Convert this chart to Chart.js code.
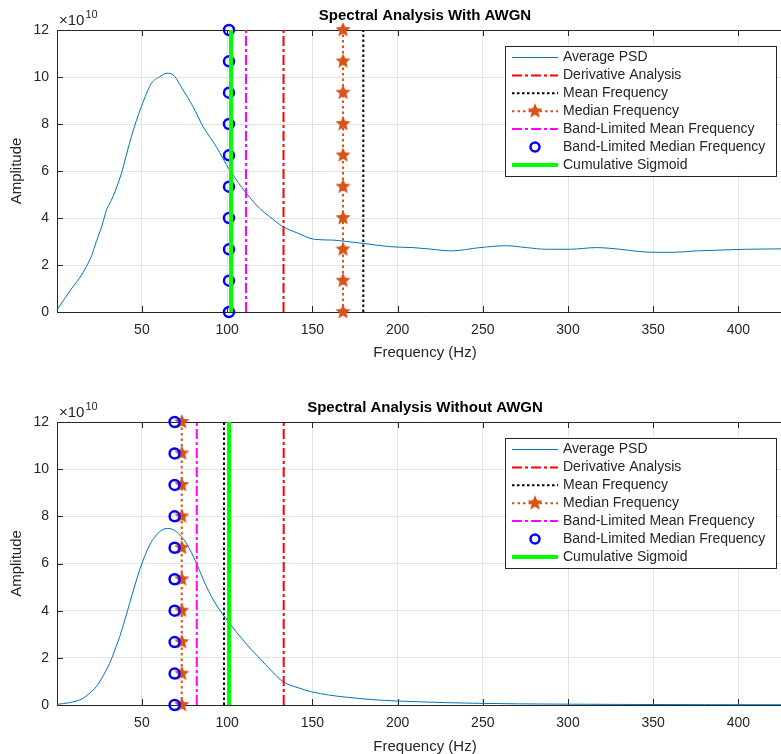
<!DOCTYPE html>
<html>
<head>
<meta charset="utf-8">
<script src="https://cdn.jsdelivr.net/npm/chart.js@4"></script>
<style>
html, body { margin: 0; padding: 0; background: #fff; overflow: hidden; }
.panel { position: relative; width: 793px; height: 377px; }
</style>
</head>
<body>
<div class="panel" id="p1"><canvas id="withNoise"></canvas></div>
<div class="panel" id="p2"><canvas id="withoutNoise"></canvas></div>
<script>
// tick labels (amplitude in units of 1e10)
var xTicks = [50, 100, 150, 200, 250, 300, 350, 400];
var yTicks = [0, 2, 4, 6, 8, 10, 12];
var markerY = [0, 1.333, 2.667, 4, 5.333, 6.667, 8, 9.333, 10.667, 12];

var seriesNames = ['Average PSD', 'Derivative Analysis', 'Mean Frequency', 'Median Frequency',
  'Band-Limited Mean Frequency', 'Band-Limited Median Frequency', 'Cumulative Sigmoid'];

// with AWGN
var freqWith = [0.2, 5, 9.6, 13.5, 17.4, 20.5, 23.3, 26.5, 29.2, 31, 33, 38, 43.8, 49.7, 55.6, 60.4,
  64.7, 68.3, 74.1, 80, 85.9, 93.7, 101.5, 111.3, 119.1, 125, 132.8, 140.7, 151.4, 162.2, 170,
  179.8, 195.4, 209.1, 218.9, 231.6, 248.2, 263.9, 275.6, 287.4, 301, 316.7, 330.4, 342.1, 350,
  361.7, 375.4, 391, 404.7, 432];
var psdWith = [0.1, 0.6, 1.08, 1.45, 1.93, 2.4, 3.0, 3.65, 4.34, 4.6, 4.9, 5.9, 7.46, 8.74, 9.73, 10.01,
  10.16, 10.09, 9.45, 8.74, 7.89, 7.03, 6.04, 5.05, 4.41, 4.05, 3.63, 3.38, 3.09, 3.06, 3.0,
  2.92, 2.78, 2.74, 2.68, 2.6, 2.74, 2.82, 2.74, 2.67, 2.67, 2.74, 2.67, 2.57, 2.54,
  2.54, 2.6, 2.64, 2.67, 2.69];
// derivative, mean, median, band-limited mean, band-limited median, sigmoid
var vlinesWith = [133.1, 179.9, 168.0, 111.1, 101.1, 102.3];

// without AWGN
var freqWithout = [0.2, 7.6, 15.4, 19, 23.3, 27, 31.1, 34, 37, 40, 42.8, 45.8, 48.7, 51.6, 54.6, 57.5,
  60.4, 63, 65.3, 67.8, 70.2, 73, 76.1, 79, 82, 85, 87.9, 90.8, 93.7, 97.6, 101.5, 105.4, 109.3,
  114.2, 119.1, 126, 132.8, 142.6, 149.5, 160, 170, 185, 199.4, 215, 228.7, 248, 270, 287, 330,
  380, 432];
var psdWithout = [0.03, 0.1, 0.28, 0.48, 0.78, 1.2, 1.77, 2.3, 2.9, 3.6, 4.31, 5.05, 5.73, 6.3, 6.79, 7.12,
  7.35, 7.46, 7.49, 7.45, 7.35, 7.15, 6.86, 6.47, 6.01, 5.5, 5.02, 4.6, 4.24, 3.83, 3.46, 3.1, 2.76,
  2.35, 1.98, 1.45, 0.99, 0.71, 0.56, 0.42, 0.33, 0.23, 0.17, 0.13, 0.1, 0.07, 0.05, 0.04, 0.025,
  0.015, 0.01];
var vlinesWithout = [133.2, 98.2, 73.4, 82.2, 69.2, 101.1];

var FONT = '"Liberation Sans", Arial, Helvetica, sans-serif';
var AX = '#262626';
var AXES_RIGHT = 793; // axes run a little past the right edge of the window

var lineStyles = [
  {color: '#0072BD', width: 1},
  {color: '#FF0000', width: 2, dash: [10, 3, 3, 3]},
  {color: '#000000', width: 2, dash: [2.5, 2.5]},
  {color: '#D95319', width: 2, dash: [2.5, 3], marker: 'star'},
  {color: '#FF00FF', width: 2, dash: [10, 3, 3, 3]},
  {color: '#0000FF', width: 2.5, marker: 'circle'},
  {color: '#00FF00', width: 4}
];

function makeStar(r) {
  var c = document.createElement('canvas');
  c.width = c.height = 2 * r + 2;
  var g = c.getContext('2d');
  g.fillStyle = '#D95319';
  g.beginPath();
  for (var i = 0; i < 10; i++) {
    var rad = i % 2 ? r * 0.45 : r;
    var a = -Math.PI / 2 + i * Math.PI / 5;
    g.lineTo(r + 1 + rad * Math.cos(a), r + 1 + rad * Math.sin(a));
  }
  g.closePath();
  g.fill();
  return c;
}
var star = makeStar(8);

function makeDatasets(freq, psd, vlines) {
  var sets = [{
    label: seriesNames[0],
    data: freq.map(function(f, i) { return {x: f, y: psd[i]}; }),
    borderColor: lineStyles[0].color, borderWidth: 1, pointRadius: 0,
    cubicInterpolationMode: 'monotone', order: 7, clip: false
  }];
  vlines.forEach(function(f, k) {
    var st = lineStyles[k + 1];
    var ds = {
      label: seriesNames[k + 1],
      data: markerY.map(function(y) { return {x: f, y: y}; }),
      borderColor: st.color, borderWidth: st.width, borderDash: st.dash || [],
      pointRadius: 0, order: 6 - k, clip: false, tension: 0
    };
    if (st.marker === 'star') {
      ds.pointStyle = star; ds.pointRadius = 7;
    }
    if (st.marker === 'circle') {
      ds.showLine = false; ds.pointRadius = 5; ds.pointBorderWidth = 2.5;
      ds.pointBorderColor = st.color; ds.pointBackgroundColor = 'rgba(0,0,0,0)';
    }
    sets.push(ds);
  });
  return sets;
}

function drawSample(ctx, st, x0, x1, y) {
  ctx.save();
  if (st.marker !== 'circle') {
    ctx.strokeStyle = st.color;
    ctx.lineWidth = st.width;
    ctx.setLineDash(st.dash || []);
    ctx.beginPath(); ctx.moveTo(x0, y); ctx.lineTo(x1, y); ctx.stroke();
  }
  ctx.setLineDash([]);
  var xm = (x0 + x1) / 2;
  if (st.marker === 'star') ctx.drawImage(star, xm - star.width / 2, y - star.height / 2);
  if (st.marker === 'circle') {
    ctx.strokeStyle = st.color; ctx.lineWidth = 2.5;
    ctx.beginPath(); ctx.arc(xm, y, 4.5, 0, Math.PI * 2); ctx.stroke();
  }
  ctx.restore();
}

var matlabAxes = {
  id: 'matlabAxes',
  beforeDatasetsDraw: function(chart) {
    var ctx = chart.ctx, a = chart.chartArea, xs = chart.scales.x, ys = chart.scales.y;
    ctx.save();
    ctx.strokeStyle = AX;
    ctx.lineWidth = 1;
    xTicks.forEach(function(v) {
      var px = Math.round(xs.getPixelForValue(v)) + 0.5;
      ctx.beginPath();
      ctx.moveTo(px, a.bottom); ctx.lineTo(px, a.bottom - 6);
      ctx.moveTo(px, a.top); ctx.lineTo(px, a.top + 6);
      ctx.stroke();
    });
    yTicks.forEach(function(v) {
      var py = Math.round(ys.getPixelForValue(v)) + 0.5;
      ctx.beginPath(); ctx.moveTo(a.left, py); ctx.lineTo(a.left + 6, py); ctx.stroke();
    });
    ctx.beginPath();
    ctx.moveTo(a.right, Math.round(a.top) + 0.5);
    ctx.lineTo(Math.round(a.left) + 0.5, Math.round(a.top) + 0.5);
    ctx.lineTo(Math.round(a.left) + 0.5, Math.round(a.bottom) + 0.5);
    ctx.lineTo(a.right, Math.round(a.bottom) + 0.5);
    ctx.stroke();
    ctx.restore();
  },
  afterDraw: function(chart, args, opts) {
    var ctx = chart.ctx, a = chart.chartArea;
    ctx.save();
    // title
    ctx.fillStyle = '#000';
    ctx.font = 'bold 15px ' + FONT;
    ctx.textAlign = 'center';
    ctx.textBaseline = 'alphabetic';
    ctx.fillText(opts.title, (a.left + a.right) / 2, a.top - 10);
    // exponent
    ctx.fillStyle = AX;
    ctx.textAlign = 'left';
    ctx.font = '15px ' + FONT;
    ctx.fillText('\u00d710', a.left + 2, a.top - 5);
    var w = ctx.measureText('\u00d710').width;
    ctx.font = '11px ' + FONT;
    ctx.fillText('10', a.left + 3 + w, a.top - 12);
    // legend
    var bx = a.right - 288, by = a.top + 15.5, bw = 271, bh = 130;
    ctx.fillStyle = '#fff';
    ctx.fillRect(bx, by, bw, bh);
    ctx.strokeStyle = AX;
    ctx.lineWidth = 1;
    ctx.strokeRect(Math.round(bx) + 0.5, Math.round(by) + 0.5, bw, bh);
    ctx.font = '14px ' + FONT;
    ctx.textBaseline = 'middle';
    seriesNames.forEach(function(name, i) {
      var y = by + 12 + i * 17.9;
      drawSample(ctx, lineStyles[i], bx + 7, bx + 53, y);
      ctx.fillStyle = AX;
      ctx.fillText(name, bx + 58, y);
    });
    ctx.restore();
  }
};

function buildChart(id, freq, psd, vlines, titleText, padTop, axisHeight, xTitlePad) {
  return new Chart(document.getElementById(id), {
    type: 'line',
    data: {datasets: makeDatasets(freq, psd, vlines)},
    options: {
      responsive: true,
      maintainAspectRatio: false,
      devicePixelRatio: 1,
      animation: false,
      layout: {padding: {top: padTop, left: 0, right: 0, bottom: 0}},
      plugins: {
        legend: {display: false},
        tooltip: {enabled: false},
        matlabAxes: {title: titleText}
      },
      scales: {
        x: {
          type: 'linear', min: 0.2, max: 432,
          afterBuildTicks: function(s) { s.ticks = xTicks.map(function(v) { return {value: v}; }); },
          afterFit: function(s) { s.height = axisHeight; },
          grid: {color: '#e3e3e3', drawTicks: false},
          border: {display: false},
          ticks: {padding: 10, color: AX, font: {family: FONT, size: 14}, maxRotation: 0, autoSkip: false},
          title: {display: true, text: 'Frequency (Hz)', color: AX, font: {family: FONT, size: 15},
                  padding: {top: 0, bottom: xTitlePad}}
        },
        y: {
          type: 'linear', min: 0, max: 12,
          afterBuildTicks: function(s) { s.ticks = yTicks.map(function(v) { return {value: v}; }); },
          afterFit: function(s) { s.width = 57; },
          grid: {color: '#e3e3e3', drawTicks: false},
          border: {display: false},
          ticks: {padding: 8, color: AX, font: {family: FONT, size: 14}},
          title: {display: true, text: 'Amplitude', color: AX, font: {family: FONT, size: 15},
                  padding: {top: 8, bottom: 0}}
        }
      }
    },
    plugins: [matlabAxes]
  });
}

// widen the panel until the plot area ends at AXES_RIGHT
function fitPanel(chart, panelId) {
  var panel = document.getElementById(panelId);
  for (var i = 0; i < 4; i++) {
    var diff = AXES_RIGHT - chart.chartArea.right;
    if (Math.abs(diff) < 0.5) break;
    panel.style.width = (panel.offsetWidth + Math.round(diff)) + 'px';
    chart.resize();
  }
}

var top1 = buildChart('withNoise', freqWith, psdWith, vlinesWith, 'Spectral Analysis With AWGN', 30, 65, 15);
var bottom1 = buildChart('withoutNoise', freqWithout, psdWithout, vlinesWithout, 'Spectral Analysis Without AWGN', 45, 49, -2);
fitPanel(top1, 'p1');
fitPanel(bottom1, 'p2');
</script>
</body>
</html>
